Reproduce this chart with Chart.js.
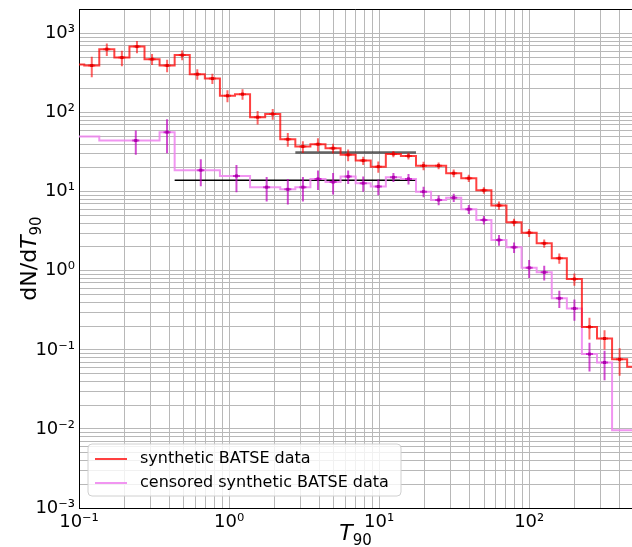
<!DOCTYPE html>
<html>
<head>
<meta charset="utf-8">
<script src="https://cdn.jsdelivr.net/npm/chart.js@4.4.0/dist/chart.umd.min.js"></script>
<style>
  html, body { margin: 0; padding: 0; background: #fff; }
</style>
</head>
<body>
<canvas id="chart" width="632" height="547"></canvas>
<script>
// Histogram bin edges (T90 in s) of the synthetic sample
const binEdges = [0.0860, 0.1084, 0.1365, 0.1720, 0.2168, 0.2732, 0.3443, 0.4339, 0.5470, 0.6894,
  0.8690, 1.095, 1.380, 1.740, 2.193, 2.764, 3.483, 4.390, 5.534, 6.975, 8.790, 11.08, 13.96,
  17.60, 22.18, 27.96, 35.24, 44.41, 55.98, 70.55, 88.92, 112.1, 141.3, 178.1, 224.4, 282.9,
  356.5, 449.3, 566.2];
const synthValues = [405, 394, 634, 496, 683, 474, 394, 533, 306, 269, 163, 171, 87.5, 96, 46,
  37.2, 39.8, 35.4, 29.2, 24.7, 20.7, 30, 28.3, 21.3, 21.3, 17.1, 14.8, 10.4, 6.7, 4.1, 3.03,
  2.22, 1.44, 0.785, 0.195, 0.139, 0.076, 0.061];
const synthErrors = [null, 115, 115, 110, 120, 75, 70, 75, 46, 40, 28, 26, 17, 15, 9, 6.3, 7.5,
  5, 5, 3, 3.3, 2.7, 2.8, 2.6, 2.1, 1.9, 1.6, 1.0, 0.8, 0.45, 0.35, 0.26, 0.21, 0.14, 0.06,
  0.038, 0.029, null];

// Censored sample: merged bins at short durations
const censEdges = [0.0860, 0.1365, 0.3443, 0.4339, 0.8690, 1.380, 2.193, 2.764, 3.483, 4.390,
  5.534, 6.975, 8.790, 11.08, 13.96, 17.60, 22.18, 27.96, 35.24, 44.41, 55.98, 70.55, 88.92,
  112.1, 141.3, 178.1, 224.4, 282.9, 356.5, 566.2];
const censValues = [49.7, 44.3, 56.5, 18.7, 15.8, 11.4, 10.7, 11.4, 14.5, 13.2, 15.5, 12.8, 11.6,
  15.2, 14.5, 10.0, 7.85, 8.4, 6.0, 4.39, 2.45, 1.98, 1.09, 0.955, 0.448, 0.334, 0.0883, 0.0692,
  0.0096];
const censPointT = [null, 0.239, 0.386, 0.648, 1.12, 1.78, 2.463, 3.105, 3.913, 4.932, 6.217,
  7.834, 9.874, 12.45, 15.69, 19.77, 24.92, 31.41, 39.58, 49.89, 62.88, 79.25, 99.88, 125.9,
  158.7, 200.0, 252.1, 317.7, null];
const censErrors = [null, 15, 26, 7, 6, 3.9, 3.8, 3.9, 4, 4, 3, 2.8, 2.6, 2.0, 2.2, 1.5, 1.1,
  1.0, 0.8, 0.55, 0.38, 0.3, 0.28, 0.2, 0.11, 0.1, 0.035, 0.028, null];

// Plateau levels (horizontal lines)
const plateauFrom = [2.764, 0.4339];
const plateauTo = [17.60, 17.60];
const plateauLevel = [31.2, 13.9];

const xRange = [0.1, 484];
const yRange = [0.001, 2040];

const RED_LINE = "rgba(255,0,0,0.75)";
const VIOLET_LINE = "rgba(238,130,238,0.85)";
const FONT = "DejaVu Sans";

function stepPoints(edges, vals) {
  const pts = vals.map((v, i) => ({ x: edges[i], y: v }));
  pts.push({ x: edges[edges.length - 1], y: vals[vals.length - 1] });
  return pts;
}

const SUP = { "-": "\u207b", "0": "\u2070", "1": "\u00b9", "2": "\u00b2", "3": "\u00b3", "4": "\u2074" };
function decadeLabel(v) {
  const e = Math.round(Math.log10(v));
  if (Math.abs(Math.log10(v) - e) > 1e-6) return "";
  return "10" + String(e).split("").map(c => SUP[c]).join("");
}

function logTicks(scale) {
  const t = [];
  for (let e = -4; e <= 3; e++) {
    for (let m = 1; m <= 9; m++) {
      const v = m * Math.pow(10, e);
      if (v >= scale.min * 0.999 && v <= scale.max * 1.001) t.push({ value: v });
    }
  }
  scale.ticks = t;
}

function errorBars(chart, xs, ys, errs, barColor, markColor) {
  const ctx = chart.ctx, sx = chart.scales.x, sy = chart.scales.y;
  xs.forEach((t, i) => {
    if (t == null || errs[i] == null) return;
    const px = sx.getPixelForValue(t);
    const lo = sy.getPixelForValue(Math.max(ys[i] - errs[i], sy.min));
    const hi = sy.getPixelForValue(ys[i] + errs[i]);
    const py = sy.getPixelForValue(ys[i]);
    ctx.strokeStyle = barColor;
    ctx.lineWidth = 2;
    ctx.beginPath();
    ctx.moveTo(px, lo); ctx.lineTo(px, hi);
    ctx.moveTo(px - 3.5, py); ctx.lineTo(px + 3.5, py);
    ctx.stroke();
    ctx.fillStyle = markColor;
    ctx.fillRect(px - 1.5, py - 1.5, 3, 3);
  });
}

function mathLabel(ctx, parts) {
  let w = 0;
  parts.forEach(p => { ctx.font = p.font; w += ctx.measureText(p.text).width; });
  let x = -w / 2;
  parts.forEach(p => {
    ctx.font = p.font;
    ctx.fillText(p.text, x, p.dy);
    x += ctx.measureText(p.text).width;
  });
}

const overlay = {
  id: "overlay",
  afterDatasetsDraw(chart) {
    const ctx = chart.ctx, a = chart.chartArea;
    ctx.save();
    ctx.beginPath();
    ctx.rect(a.left, a.top, a.right - a.left, a.bottom - a.top);
    ctx.clip();
    const centers = synthValues.map((v, i) => Math.sqrt(binEdges[i] * binEdges[i + 1]));
    errorBars(chart, centers, synthValues, synthErrors, "rgba(255,0,0,0.6)", "rgb(225,0,0)");
    errorBars(chart, censPointT, censValues, censErrors, "rgba(190,0,190,0.7)", "rgb(170,0,170)");
    ctx.restore();
    // top spine
    ctx.strokeStyle = "#000";
    ctx.lineWidth = 1;
    ctx.beginPath();
    ctx.moveTo(a.left, a.top + 0.5);
    ctx.lineTo(a.right, a.top + 0.5);
    ctx.stroke();
  },
  afterDraw(chart) {
    const ctx = chart.ctx, a = chart.chartArea;
    ctx.save();
    // legend box
    const x0 = a.left + 9, w = 313, h = 52, y0 = a.bottom - 12 - h, r = 4;
    ctx.beginPath();
    ctx.moveTo(x0 + r, y0);
    ctx.arcTo(x0 + w, y0, x0 + w, y0 + h, r);
    ctx.arcTo(x0 + w, y0 + h, x0, y0 + h, r);
    ctx.arcTo(x0, y0 + h, x0, y0, r);
    ctx.arcTo(x0, y0, x0 + w, y0, r);
    ctx.closePath();
    ctx.fillStyle = "rgba(255,255,255,0.8)";
    ctx.fill();
    ctx.strokeStyle = "#d0d0d0";
    ctx.lineWidth = 1;
    ctx.stroke();
    const rows = [
      { color: RED_LINE, text: "synthetic BATSE data" },
      { color: VIOLET_LINE, text: "censored synthetic BATSE data" }
    ];
    ctx.font = "16px " + FONT;
    ctx.textBaseline = "middle";
    rows.forEach((row, i) => {
      const yy = y0 + 15 + i * 24;
      ctx.strokeStyle = row.color;
      ctx.lineWidth = 2;
      ctx.beginPath();
      ctx.moveTo(x0 + 7, yy); ctx.lineTo(x0 + 39, yy);
      ctx.stroke();
      ctx.fillStyle = "#000";
      ctx.fillText(row.text, x0 + 52, yy);
    });

    // axis titles
    ctx.fillStyle = "#000";
    ctx.textBaseline = "alphabetic";
    const size = 22;
    const tParts = [
      { text: "T", font: "italic " + size + "px " + FONT, dy: 0 },
      { text: "90", font: Math.round(size * 0.7) + "px " + FONT, dy: size * 0.22 }
    ];
    ctx.save();
    ctx.translate((a.left + a.right) / 2, 540);
    mathLabel(ctx, tParts);
    ctx.restore();
    ctx.save();
    ctx.translate(36, (a.top + a.bottom) / 2);
    ctx.rotate(-Math.PI / 2);
    mathLabel(ctx, [{ text: "dN/d", font: size + "px " + FONT, dy: 0 }].concat(tParts));
    ctx.restore();
    ctx.restore();
  }
};

const gridOpts = { color: "#b8b8b8", lineWidth: 1, drawTicks: false };

new Chart(document.getElementById("chart"), {
  type: "line",
  data: {
    datasets: [
      {
        label: "synthetic BATSE data",
        data: stepPoints(binEdges, synthValues),
        borderColor: RED_LINE,
        borderWidth: 2,
        stepped: "before",
        pointRadius: 0,
        fill: false,
        clip: 0
      },
      {
        label: "censored synthetic BATSE data",
        data: stepPoints(censEdges, censValues),
        borderColor: VIOLET_LINE,
        borderWidth: 2,
        stepped: "before",
        pointRadius: 0,
        fill: false,
        clip: 0
      },
      {
        label: "plateau 1",
        data: [{ x: plateauFrom[0], y: plateauLevel[0] }, { x: plateauTo[0], y: plateauLevel[0] }],
        borderColor: "rgba(50,50,50,0.75)",
        borderWidth: 2.5,
        pointRadius: 0,
        fill: false
      },
      {
        label: "plateau 2",
        data: [{ x: plateauFrom[1], y: plateauLevel[1] }, { x: plateauTo[1], y: plateauLevel[1] }],
        borderColor: "#000",
        borderWidth: 1.5,
        pointRadius: 0,
        fill: false
      }
    ]
  },
  options: {
    responsive: false,
    animation: false,
    devicePixelRatio: 1,
    layout: { padding: { top: 9, right: 0, bottom: 0, left: 0 } },
    plugins: { legend: { display: false }, tooltip: { enabled: false } },
    scales: {
      x: {
        type: "logarithmic",
        min: xRange[0],
        max: xRange[1],
        bounds: "data",
        afterBuildTicks: logTicks,
        afterFit: s => { s.height = 39; },
        grid: gridOpts,
        border: { display: true, color: "#000", width: 1 },
        ticks: {
          autoSkip: false, maxRotation: 0, padding: 4, color: "#000",
          font: { family: FONT, size: 18 },
          callback: v => decadeLabel(v)
        }
      },
      y: {
        type: "logarithmic",
        min: yRange[0],
        max: yRange[1],
        bounds: "data",
        afterBuildTicks: logTicks,
        afterFit: s => { s.width = 79; s.paddingTop = 0; s.paddingBottom = 0; },
        grid: gridOpts,
        border: { display: true, color: "#000", width: 1 },
        ticks: {
          autoSkip: false, padding: 4, color: "#000",
          font: { family: FONT, size: 18, lineHeight: 0.5 },
          callback: v => decadeLabel(v)
        }
      }
    }
  },
  plugins: [overlay]
});
</script>
</body>
</html>
